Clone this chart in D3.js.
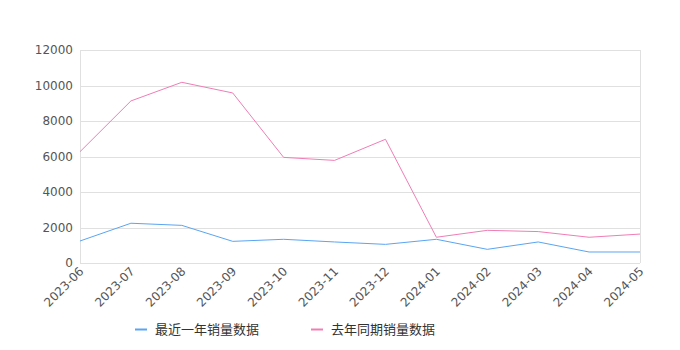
<!DOCTYPE html>
<html>
<head>
<meta charset="utf-8">
<script src="https://cdn.jsdelivr.net/npm/d3@7"></script>
<style>
  body { margin: 0; background: #fff; }
  svg { display: block; font-family: "Noto Sans CJK SC", "DejaVu Sans", sans-serif; }
</style>
</head>
<body>
<div id="chart"></div>
<script>
// data
const months = ["2023-06", "2023-07", "2023-08", "2023-09", "2023-10", "2023-11",
                "2023-12", "2024-01", "2024-02", "2024-03", "2024-04", "2024-05"];
const recentYear = [1240, 2240, 2120, 1220, 1335, 1185, 1050, 1335, 770, 1185, 620, 620];
const lastYear = [6270, 9130, 10180, 9580, 5950, 5780, 6970, 1450, 1840, 1770, 1450, 1630];
const yTicks = [0, 2000, 4000, 6000, 8000, 10000, 12000];
const seriesNames = ["最近一年销量数据", "去年同期销量数据"];
const colors = ["#5aa5f2", "#f07db5"];

const width = 680, height = 350;
const margin = {top: 50, right: 40, bottom: 87, left: 80};

const svg = d3.select("#chart")
    .append("svg")
    .attr("width", width)
    .attr("height", height);

const x = d3.scalePoint()
    .domain(months)
    .range([margin.left, width - margin.right]);

const y = d3.scaleLinear()
    .domain([0, 12000])
    .range([height - margin.bottom, margin.top]);

// grid lines
svg.append("g")
    .selectAll("line")
    .data(yTicks)
    .enter()
    .append("line")
    .attr("x1", margin.left)
    .attr("x2", width - margin.right)
    .attr("y1", d => Math.round(y(d)) + 0.5)
    .attr("y2", d => Math.round(y(d)) + 0.5)
    .style("stroke", "#e0e0e0");

// frame left / right
[margin.left, width - margin.right].forEach(px => {
    svg.append("line")
        .attr("x1", px + 0.5).attr("x2", px + 0.5)
        .attr("y1", y(12000)).attr("y2", y(0))
        .style("stroke", "#e0e0e0");
});

// y axis labels
const yAxis = svg.append("g")
    .attr("transform", "translate(" + margin.left + ",0)")
    .call(d3.axisLeft(y).tickValues(yTicks).tickSize(0).tickPadding(7).tickFormat(d3.format("d")));
yAxis.select(".domain").remove();
yAxis.selectAll("text")
    .attr("font-size", "12px")
    .attr("fill", "#555")
    .style("font-family", "'DejaVu Sans', sans-serif");

// x axis labels, rotated
const xAxis = svg.append("g")
    .attr("transform", "translate(0," + y(0) + ")")
    .call(d3.axisBottom(x).tickSize(0).tickPadding(0));
xAxis.select(".domain").remove();
xAxis.selectAll("text")
    .attr("font-size", "12px")
    .attr("fill", "#555")
    .style("font-family", "'DejaVu Sans', sans-serif")
    .attr("text-anchor", "end")
    .attr("dy", "0")
    .attr("transform", "translate(4,9) rotate(-45)");

// lines
const line = d3.line()
    .x((d, i) => x(months[i]))
    .y(d => y(d));

[lastYear, recentYear].forEach((vals, k) => {
    svg.append("path")
        .datum(vals)
        .attr("d", line)
        .attr("fill", "none")
        .attr("stroke", k === 0 ? colors[1] : colors[0])
        .attr("stroke-width", 1);
});

// legend
const legendX = [135, 311];
seriesNames.forEach((name, i) => {
    const g = svg.append("g").attr("transform", "translate(" + legendX[i] + ",329)");
    g.append("line")
        .attr("x1", 0).attr("x2", 12)
        .attr("y1", 0.5).attr("y2", 0.5)
        .attr("stroke", colors[i])
        .attr("stroke-width", 2);
    g.append("text")
        .attr("x", 20)
        .attr("y", 5)
        .attr("font-size", "13px")
        .attr("fill", "#333")
        .text(name);
});
</script>
</body>
</html>
